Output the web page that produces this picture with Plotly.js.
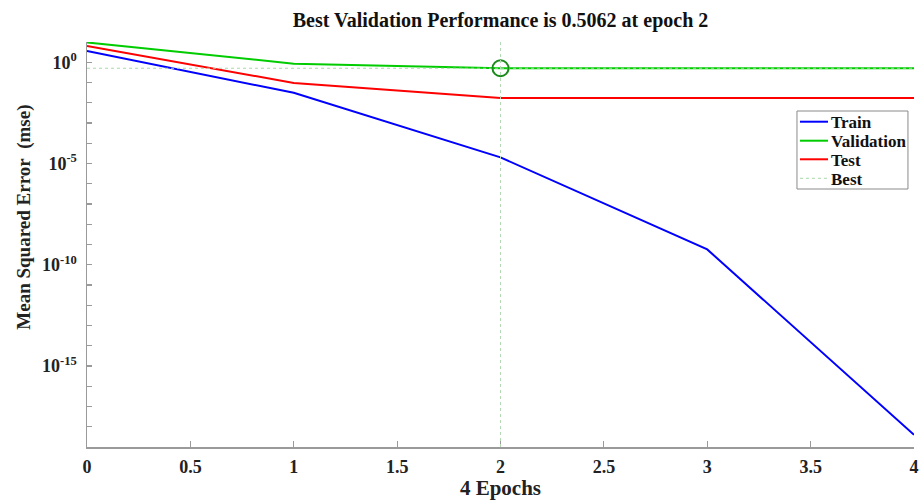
<!DOCTYPE html>
<html>
<head>
<meta charset="utf-8">
<script src="https://cdn.plot.ly/plotly-3.0.1.min.js"></script>
<style>html,body{margin:0;padding:0;background:#fff}#chart{width:920px;height:500px}</style>
</head>
<body>
<div id="chart"></div>
<script>
// Data
const epochs = [0, 1, 2, 3, 4];
const trainMSE = [3.6, 0.031, 2.0e-5, 5.7e-10, 4.0e-19];
const validationMSE = [9.5, 0.85, 0.5062, 0.51, 0.51];
const testMSE = [6.3, 0.095, 0.017, 0.017, 0.017];
const bestEpoch = 2;
const bestPerf = 0.5062;
const seriesNames = ['Train', 'Validation', 'Test', 'Best'];
const xTickVals = [0, 0.5, 1, 1.5, 2, 2.5, 3, 3.5, 4];
const xTickText = ['0', '0.5', '1', '1.5', '2', '2.5', '3', '3.5', '4'];
const yTickExps = [-18, -17, -16, -15, -14, -13, -12, -11, -10, -9, -8, -7, -6, -5, -4, -3, -2, -1, 0];
const yLabelExps = [0, -5, -10, -15];

const yTickVals = yTickExps.map(e => Math.pow(10, e));
const yTickText = yTickExps.map(e => yLabelExps.includes(e) ? '10<sup>' + e + '</sup>' : '');

const serif = 'Liberation Serif, Times New Roman, serif';
const axisGray = '#9a9a9a';
const colors = ['#0000ff', '#00cc00', '#ff0000', '#a8d8a8'];

const traces = [
  {x: epochs, y: trainMSE, name: seriesNames[0], mode: 'lines', line: {color: colors[0], width: 2}},
  {x: epochs, y: validationMSE, name: seriesNames[1], mode: 'lines', line: {color: colors[1], width: 2}},
  {x: epochs, y: testMSE, name: seriesNames[2], mode: 'lines', line: {color: colors[2], width: 2}},
  {x: [epochs[0], epochs[epochs.length - 1]], y: [bestPerf, bestPerf], name: seriesNames[3], mode: 'lines',
   line: {color: colors[3], width: 1, dash: 'dot'}},
  {x: [bestEpoch], y: [bestPerf], mode: 'markers', showlegend: false,
   marker: {symbol: 'circle-open', size: 16, color: '#1a8a1a', line: {width: 2}}}
];

// Custom legend (box, samples and labels) in paper coordinates
const legLeft = 0.8585, legRight = 0.9927, legTop = 0.8296, legBottom = 0.637;
const legRows = [0.8032, 0.7563, 0.7104, 0.6635];
const shapes = [
  {type: 'line', xref: 'x', yref: 'paper', x0: bestEpoch, x1: bestEpoch, y0: 0, y1: 1,
   line: {color: '#b5d9b5', width: 1, dash: 'dot'}},
  {type: 'rect', xref: 'paper', yref: 'paper', x0: legLeft, x1: legRight, y0: legBottom, y1: legTop,
   line: {color: '#8a8a8a', width: 1}, fillcolor: '#ffffff', layer: 'above'}
];
const annotations = [];
seriesNames.forEach((nm, i) => {
  shapes.push({type: 'line', xref: 'paper', yref: 'paper', x0: 0.8621, x1: 0.8960, y0: legRows[i], y1: legRows[i],
    layer: 'above', line: {color: colors[i], width: i === 3 ? 1 : 2, dash: i === 3 ? 'dot' : 'solid'}});
  annotations.push({xref: 'paper', yref: 'paper', x: 0.8975, y: legRows[i] - 0.002, xanchor: 'left', yanchor: 'middle',
    showarrow: false, text: nm, font: {family: serif, size: 17, weight: 700, color: '#111'}});
});
annotations.push({xref: 'paper', yref: 'paper', x: -0.0765, y: 0.568, xanchor: 'center', yanchor: 'middle',
  showarrow: false, textangle: -90, text: 'Mean Squared Error&nbsp;&nbsp;(mse)',
  font: {family: serif, size: 19, weight: 700, color: '#222'}});

const layout = {
  width: 920, height: 500,
  paper_bgcolor: '#fff', plot_bgcolor: '#fff',
  margin: {l: 87, r: 6, t: 42, b: 53},
  font: {family: serif, size: 15, color: '#222', weight: 700},
  title: {text: 'Best Validation Performance is 0.5062 at epoch 2', x: 0.5, xref: 'paper',
          y: 0.96, yref: 'container', yanchor: 'middle', font: {family: serif, size: 20, weight: 700, color: '#111'}},
  xaxis: {range: [0, 4], tickmode: 'array', tickvals: xTickVals, ticktext: xTickText,
          ticks: 'inside', ticklen: 6, tickcolor: axisGray, tickwidth: 1.2, ticklabelstandoff: 3,
          showline: true, linecolor: axisGray, linewidth: 1.5, showgrid: false, zeroline: false,
          tickfont: {family: serif, size: 18, weight: 700, color: '#222'},
          title: {text: '4 Epochs', font: {family: serif, size: 21, weight: 700, color: '#222'}, standoff: 2}},
  yaxis: {type: 'log', range: [-19, 1], tickmode: 'array', tickvals: yTickVals, ticktext: yTickText,
          ticks: 'inside', ticklen: 5, tickcolor: axisGray, tickwidth: 1.2, ticklabelstandoff: 5,
          showline: true, linecolor: axisGray, linewidth: 1.5, showgrid: false, zeroline: false,
          tickfont: {family: serif, size: 18, weight: 700, color: '#222'}},
  shapes: shapes,
  annotations: annotations,
  showlegend: false
};

Plotly.newPlot('chart', traces, layout, {displayModeBar: false, staticPlot: true});
</script>
</body>
</html>
